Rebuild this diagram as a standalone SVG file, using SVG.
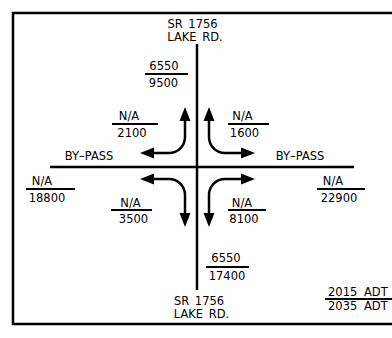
<svg xmlns="http://www.w3.org/2000/svg" width="392" height="338" viewBox="0 0 392 338">
<style>
text{font-family:"DejaVu Sans","Liberation Sans",sans-serif;font-size:11.5px;fill:#000;text-anchor:middle;word-spacing:2px}
.s{text-anchor:start;word-spacing:3px}
.road{stroke:#000;stroke-width:2.5;fill:none}
.frac{stroke:#000;stroke-width:2;fill:none}
.arr{stroke:#000;stroke-width:2.5;fill:none;marker-start:url(#ah);marker-end:url(#ah)}
</style>
<defs>
<marker id="ah" markerUnits="userSpaceOnUse" markerWidth="15" markerHeight="12" refX="4" refY="6" orient="auto-start-reverse" viewBox="0 0 15 12">
<path d="M0,0.5 L14,6 L0,11.5 z" fill="#000"/>
</marker>
</defs>
<rect width="392" height="338" fill="#fff"/>
<path id="border" d="M393,13 H13 V324 H393" stroke="#000" stroke-width="2.5" fill="none"/>
<g id="connectors">
<line class="road" x1="197" y1="44" x2="197" y2="290"/>
<line class="road" x1="50" y1="167" x2="354" y2="167"/>
<path class="arr" d="M185,117 V137 A16,16 0 0 1 169,153 H150"/>
<path class="arr" d="M209,117 V137 A16,16 0 0 0 225,153 H245"/>
<path class="arr" d="M150,179 H169 A16,16 0 0 1 185,195 V217"/>
<path class="arr" d="M245,179 H225 A16,16 0 0 0 209,195 V217"/>
</g>
<g id="road-north">
<text x="192.5" y="28">SR 1756</text>
<text x="195" y="41">LAKE RD.</text>
</g>
<g id="vol-north">
<text x="164" y="70">6550</text>
<line class="frac" x1="145" y1="74" x2="188" y2="74"/>
<text x="163.5" y="87">9500</text>
</g>
<g id="turn-nw">
<text x="129" y="120">N/A</text>
<line class="frac" x1="112" y1="124" x2="158" y2="124"/>
<text x="132" y="137">2100</text>
</g>
<g id="turn-ne">
<text x="242.5" y="120">N/A</text>
<line class="frac" x1="228" y1="124" x2="269" y2="124"/>
<text x="244.5" y="137">1600</text>
</g>
<g id="road-west"><text x="89" y="160">BY–PASS</text></g>
<g id="road-east"><text x="300" y="160">BY–PASS</text></g>
<g id="vol-west">
<text x="42" y="185">N/A</text>
<line class="frac" x1="26" y1="189" x2="75" y2="189"/>
<text x="47" y="202">18800</text>
</g>
<g id="vol-east">
<text x="333" y="185">N/A</text>
<line class="frac" x1="317" y1="189" x2="365" y2="189"/>
<text x="339" y="202">22900</text>
</g>
<g id="turn-sw">
<text x="130.5" y="207">N/A</text>
<line class="frac" x1="111" y1="210" x2="152" y2="210"/>
<text x="133.5" y="223">3500</text>
</g>
<g id="turn-se">
<text x="242" y="207">N/A</text>
<line class="frac" x1="228" y1="210" x2="266" y2="210"/>
<text x="244" y="223">8100</text>
</g>
<g id="vol-south">
<text x="226" y="262">6550</text>
<line class="frac" x1="206" y1="267" x2="249" y2="267"/>
<text x="227" y="280">17400</text>
</g>
<g id="road-south">
<text x="199" y="305">SR 1756</text>
<text x="201.5" y="318">LAKE RD.</text>
</g>
<g id="legend">
<text class="s" x="328" y="296">2015 ADT</text>
<line class="frac" x1="325" y1="299" x2="392" y2="299"/>
<text class="s" x="328" y="310">2035 ADT</text>
</g>
</svg>
